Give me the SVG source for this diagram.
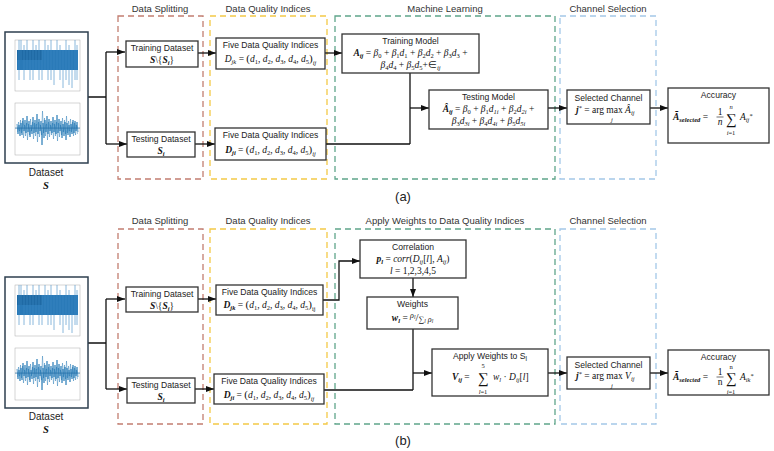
<svg xmlns="http://www.w3.org/2000/svg" xmlns:xlink="http://www.w3.org/1999/xlink" width="774" height="451" viewBox="0 0 774 451">
<style>
.lbl{font-family:"Liberation Sans",Arial,sans-serif;font-size:8.6px;fill:#222;text-anchor:middle}
.ttl{font-family:"Liberation Sans",Arial,sans-serif;font-size:9.5px;fill:#333;text-anchor:middle}
.cap{font-family:"Liberation Sans",Arial,sans-serif;font-size:13px;fill:#222;text-anchor:middle}
.m{font-family:"Liberation Serif","Times New Roman",serif;font-style:italic;font-size:9.5px;fill:#111;text-anchor:middle}
.st{text-anchor:start}
.b{font-weight:bold}
.s{font-size:6.5px}
.r{font-style:normal}
.sum{font-size:15px;font-style:normal}
.box{fill:#fff;stroke:#333;stroke-width:1.3}
.dash{fill:none;stroke-width:1.3;stroke-dasharray:6 4}
.red{stroke:#c27d70}
.yel{stroke:#f3c947}
.grn{stroke:#5fa58a}
.blu{stroke:#a4c8e8}
.cn{fill:none;stroke:#111;stroke-width:1.3}
.ar{marker-end:url(#ar)}
.frame{fill:#fff;stroke:#2e3f4f;stroke-width:1.5}
.ax{fill:#fff;stroke:#aaa;stroke-width:0.5}
.sig{fill:none;stroke:#1f77b4;stroke-width:0.7}
</style>
<defs>
<marker id="ar" viewBox="0 0 8 6" refX="8" refY="3" markerWidth="8" markerHeight="6" markerUnits="userSpaceOnUse" orient="auto"><path d="M0,0L8,3L0,6z" fill="#111"/></marker>
<g id="ds">
<rect class="frame" x="0" y="0" width="83" height="131"/>
<rect class="ax" x="10" y="8" width="65" height="51"/>
<rect x="12" y="18" width="61" height="20" fill="#2a7ab8"/>
<rect x="12" y="18" width="25" height="10" fill="#1f6aa5"/>
<path d="M14,8V48M16,8V28M19,13V48M22,8V38M25,18V48M28,8V48M31,13V38M34,8V48M37,18V48M40,8V38M43,13V48M46,8V48M49,18V53M52,8V38M55,13V48M58,18V56M61,8V48M64,13V53M67,18V56M70,8V48M72,13V48" stroke="#3c8bc6" stroke-width="0.8" opacity="0.75"/>
<rect class="ax" x="10" y="71" width="65" height="52"/>
<polyline class="sig" points="12,92 13,102 14,93 15,104 16,91 17,103 18,86 19,99 20,88 21,101 22,84 23,100 24,89 25,105 26,93 27,102 28,85 29,101 30,88 31,100 32,82 33,102 34,87 35,99 36,89 37,113 38,91 39,106 40,88 41,100 42,84 43,102 44,87 45,99 46,89 47,101 48,85 49,100 50,88 51,102 52,83 53,101 54,87 55,99 56,89 57,106 58,92 59,104 60,90 61,108 62,91 63,103 64,93 65,105 66,92 67,102 68,88 69,101 70,89 71,99 72,90 73,100"/>
<polyline class="sig" opacity="0.6" points="12.5,100 13.5,90 14.5,99 15.5,88 16.5,101 17.5,89 18.5,106 19.5,93 20.5,104 21.5,91 22.5,108 23.5,92 24.5,103 25.5,87 26.5,99 27.5,90 28.5,107 29.5,91 30.5,104 31.5,92 32.5,110 33.5,90 34.5,105 35.5,93 36.5,103 37.5,79 38.5,101 39.5,86 40.5,104 41.5,92 42.5,108 43.5,90 44.5,105 45.5,93 46.5,103 47.5,91 48.5,107 49.5,92 50.5,104 51.5,90 52.5,109 53.5,91 54.5,105 55.5,93 56.5,103 57.5,86 58.5,100 59.5,88 60.5,102 61.5,84 62.5,101 63.5,89 64.5,99 65.5,87 66.5,100 67.5,90 68.5,104 69.5,91 70.5,103 71.5,93 72.5,102"/>
<rect x="10" y="95.5" width="65" height="1.2" fill="#1f6aa5" opacity="0.6"/>
</g>
</defs>
<rect width="774" height="451" fill="#fff"/>

<!-- Panel (a) -->
<g id="a-groups">
<rect class="dash red" x="118" y="16" width="85" height="163"/>
<rect class="dash yel" x="210" y="16" width="117" height="163"/>
<rect class="dash grn" x="335" y="16" width="220" height="163"/>
<rect class="dash blu" x="560" y="16" width="96" height="163"/>
<text class="ttl" x="160" y="12">Data Splitting</text>
<text class="ttl" x="268" y="12">Data Quality Indices</text>
<text class="ttl" x="445" y="12">Machine Learning</text>
<text class="ttl" x="608" y="12">Channel Selection</text>
</g>
<g id="a-connectors">
<path class="cn" d="M88,97H106M106,52V144"/>
<path class="cn ar" d="M106,52H125"/>
<path class="cn ar" d="M106,144H127"/>
<path class="cn ar" d="M198,53H216"/>
<path class="cn ar" d="M195,144H215"/>
<path class="cn ar" d="M325,53H342"/>
<path class="cn" d="M410,73V144M326,144H410"/>
<path class="cn ar" d="M410,108H429"/>
<path class="cn ar" d="M548,108H567"/>
<path class="cn ar" d="M650,108H668"/>
</g>
<g id="a-dataset">
<use xlink:href="#ds" x="5" y="32"/>
<text class="lbl" x="46" y="176" style="font-size:10px">Dataset</text>
<text class="m b" x="46" y="189" style="font-size:10.5px">S</text>
</g>
<g id="a-train">
<rect class="box" x="126" y="41" width="72" height="26"/>
<text class="lbl" x="162" y="51">Training Dataset</text>
<text class="m" x="162" y="63"><tspan class="b">S</tspan><tspan class="r">\{</tspan><tspan class="b">S</tspan><tspan class="s b" dy="2">i</tspan><tspan class="r" dy="-2">}</tspan></text>
</g>
<g id="a-test">
<rect class="box" x="127" y="132" width="68" height="25"/>
<text class="lbl" x="161" y="142">Testing Dataset</text>
<text class="m" x="161" y="154"><tspan class="b">S</tspan><tspan class="s b" dy="2">i</tspan></text>
</g>
<g id="a-dqi1">
<rect class="box" x="216" y="38" width="109" height="31"/>
<text class="lbl" x="270.5" y="48">Five Data Quality Indices</text>
<text class="m" x="270.5" y="62">D<tspan class="s" dy="2">jk</tspan><tspan class="r" dy="-2"> = </tspan><tspan class="r" style="font-size:11px">(</tspan>d<tspan class="s r" dy="2">1</tspan><tspan class="r" dy="-2">, </tspan>d<tspan class="s r" dy="2">2</tspan><tspan class="r" dy="-2">, </tspan>d<tspan class="s r" dy="2">3</tspan><tspan class="r" dy="-2">, </tspan>d<tspan class="s r" dy="2">4</tspan><tspan class="r" dy="-2">, </tspan>d<tspan class="s r" dy="2">5</tspan><tspan class="r" dy="-2" style="font-size:11px">)</tspan><tspan class="s" dy="3">ij</tspan></text>
</g>
<g id="a-dqi2">
<rect class="box" x="215" y="128" width="111" height="32"/>
<text class="lbl" x="270.5" y="138">Five Data Quality Indices</text>
<text class="m" x="270.5" y="153"><tspan class="b">D</tspan><tspan class="s b" dy="2">ji</tspan><tspan class="r" dy="-2"> = </tspan><tspan class="r" style="font-size:11px">(</tspan>d<tspan class="s r" dy="2">1</tspan><tspan class="r" dy="-2">, </tspan>d<tspan class="s r" dy="2">2</tspan><tspan class="r" dy="-2">, </tspan>d<tspan class="s r" dy="2">3</tspan><tspan class="r" dy="-2">, </tspan>d<tspan class="s r" dy="2">4</tspan><tspan class="r" dy="-2">, </tspan>d<tspan class="s r" dy="2">5</tspan><tspan class="r" dy="-2" style="font-size:11px">)</tspan><tspan class="s" dy="3">ij</tspan></text>
</g>
<g id="a-trainmodel">
<rect class="box" x="342" y="34" width="137" height="39"/>
<text class="lbl" x="410.5" y="44">Training Model</text>
<text class="m" x="410.5" y="56"><tspan class="b">A</tspan><tspan class="s b" dy="2">ij</tspan><tspan class="r" dy="-2"> = </tspan>β<tspan class="s r" dy="2">0</tspan><tspan class="r" dy="-2"> + </tspan>β<tspan class="s r" dy="2">1</tspan><tspan dy="-2">d</tspan><tspan class="s r" dy="2">1</tspan><tspan class="r" dy="-2"> + </tspan>β<tspan class="s r" dy="2">2</tspan><tspan dy="-2">d</tspan><tspan class="s r" dy="2">2</tspan><tspan class="r" dy="-2"> + </tspan>β<tspan class="s r" dy="2">3</tspan><tspan dy="-2">d</tspan><tspan class="s r" dy="2">3</tspan><tspan class="r" dy="-2"> +</tspan></text>
<text class="m" x="410.5" y="68">β<tspan class="s r" dy="2">4</tspan><tspan dy="-2">d</tspan><tspan class="s r" dy="2">4</tspan><tspan class="r" dy="-2"> + </tspan>β<tspan class="s r" dy="2">5</tspan><tspan dy="-2">d</tspan><tspan class="s r" dy="2">5</tspan><tspan class="r" dy="-2">+∈</tspan><tspan class="s" dy="2">ij</tspan></text>
</g>
<g id="a-testmodel">
<rect class="box" x="429" y="90" width="119" height="39"/>
<text class="lbl" x="488.5" y="100">Testing Model</text>
<text class="m" x="488.5" y="112"><tspan class="b">Â</tspan><tspan class="s b" dy="2">ij</tspan><tspan class="r" dy="-2"> = </tspan>β<tspan class="s r" dy="2">0</tspan><tspan class="r" dy="-2"> + </tspan>β<tspan class="s r" dy="2">1</tspan><tspan dy="-2">d</tspan><tspan class="s" dy="2">1i</tspan><tspan class="r" dy="-2"> + </tspan>β<tspan class="s r" dy="2">2</tspan><tspan dy="-2">d</tspan><tspan class="s" dy="2">2i</tspan><tspan class="r" dy="-2"> +</tspan></text>
<text class="m" x="488.5" y="124">β<tspan class="s r" dy="2">3</tspan><tspan dy="-2">d</tspan><tspan class="s" dy="2">3i</tspan><tspan class="r" dy="-2"> + </tspan>β<tspan class="s r" dy="2">4</tspan><tspan dy="-2">d</tspan><tspan class="s" dy="2">4i</tspan><tspan class="r" dy="-2"> + </tspan>β<tspan class="s r" dy="2">5</tspan><tspan dy="-2">d</tspan><tspan class="s" dy="2">5i</tspan></text>
</g>
<g id="a-select">
<rect class="box" x="567" y="90" width="83" height="34"/>
<text class="lbl" x="608.5" y="101">Selected Channel</text>
<text class="m st" x="576" y="113"><tspan class="b">j</tspan><tspan class="s r" dy="-3">*</tspan><tspan class="r" dy="3"> = arg max </tspan>Â<tspan class="s" dy="2">ij</tspan></text>
<text class="m s" x="612" y="121.5">j</text>
</g>
<g id="a-acc">
<rect class="box" x="668" y="88" width="101" height="55"/>
<text class="lbl" x="718.5" y="98">Accuracy</text>
<text class="m st" x="673" y="120"><tspan class="b">Ā</tspan><tspan class="s b" dy="2">selected</tspan><tspan class="r" dy="-2"> =</tspan></text>
<text class="m r" x="720" y="115">1</text>
<path d="M716.5,117H723.5" stroke="#111" stroke-width="0.6"/>
<text class="m" x="720" y="125">n</text>
<text class="m sum" x="731" y="124">∑</text>
<text class="m s" x="731" y="109">n</text>
<text class="m s" x="731" y="135"><tspan>i</tspan><tspan class="r">=1</tspan></text>
<text class="m st" x="740" y="120">A<tspan class="s" dy="2">ij</tspan><tspan class="s r" dy="-4">*</tspan></text>
</g>
<text class="cap" x="403" y="201">(a)</text>

<!-- Panel (b) -->
<g id="b-groups">
<rect class="dash red" x="118" y="229" width="85" height="195"/>
<rect class="dash yel" x="210" y="229" width="117" height="195"/>
<rect class="dash grn" x="335" y="229" width="220" height="195"/>
<rect class="dash blu" x="560" y="229" width="96" height="195"/>
<text class="ttl" x="160" y="224">Data Splitting</text>
<text class="ttl" x="268" y="224">Data Quality Indices</text>
<text class="ttl" x="445" y="224">Apply Weights to Data Quality Indices</text>
<text class="ttl" x="608" y="224">Channel Selection</text>
</g>
<g id="b-connectors">
<path class="cn" d="M88,343H106M106,299V389"/>
<path class="cn ar" d="M106,299H125"/>
<path class="cn ar" d="M106,389H127"/>
<path class="cn ar" d="M198,299H216"/>
<path class="cn ar" d="M195,389H214"/>
<path class="cn ar" d="M323,300H339V261H360"/>
<path class="cn ar" d="M413,278V297"/>
<path class="cn" d="M413,329V390M324,390H413"/>
<path class="cn ar" d="M413,373H432"/>
<path class="cn ar" d="M548,373H567"/>
<path class="cn ar" d="M650,373H668"/>
</g>
<g id="b-dataset">
<use xlink:href="#ds" x="5" y="277"/>
<text class="lbl" x="46" y="420" style="font-size:10px">Dataset</text>
<text class="m b" x="46" y="433" style="font-size:10.5px">S</text>
</g>
<g id="b-train">
<rect class="box" x="126" y="287" width="72" height="25"/>
<text class="lbl" x="162" y="297">Training Dataset</text>
<text class="m" x="162" y="309"><tspan class="b">S</tspan><tspan class="r">\{</tspan><tspan class="b">S</tspan><tspan class="s b" dy="2">i</tspan><tspan class="r" dy="-2">}</tspan></text>
</g>
<g id="b-test">
<rect class="box" x="127" y="378" width="68" height="25"/>
<text class="lbl" x="161" y="388">Testing Dataset</text>
<text class="m" x="161" y="400"><tspan class="b">S</tspan><tspan class="s b" dy="2">i</tspan></text>
</g>
<g id="b-dqi1">
<rect class="box" x="216" y="285" width="107" height="30"/>
<text class="lbl" x="269.5" y="295">Five Data Quality Indices</text>
<text class="m" x="269.5" y="308"><tspan class="b">D</tspan><tspan class="s b" dy="2">jk</tspan><tspan class="r" dy="-2"> = </tspan><tspan class="r" style="font-size:11px">(</tspan>d<tspan class="s r" dy="2">1</tspan><tspan class="r" dy="-2">, </tspan>d<tspan class="s r" dy="2">2</tspan><tspan class="r" dy="-2">, </tspan>d<tspan class="s r" dy="2">3</tspan><tspan class="r" dy="-2">, </tspan>d<tspan class="s r" dy="2">4</tspan><tspan class="r" dy="-2">, </tspan>d<tspan class="s r" dy="2">5</tspan><tspan class="r" dy="-2" style="font-size:11px">)</tspan><tspan class="s r" dy="3">ij</tspan></text>
</g>
<g id="b-dqi2">
<rect class="box" x="214" y="374" width="110" height="30"/>
<text class="lbl" x="269" y="384">Five Data Quality Indices</text>
<text class="m" x="269" y="398"><tspan class="b">D</tspan><tspan class="s b" dy="2">ji</tspan><tspan class="r" dy="-2"> = </tspan><tspan class="r" style="font-size:11px">(</tspan>d<tspan class="s r" dy="2">1</tspan><tspan class="r" dy="-2">, </tspan>d<tspan class="s r" dy="2">2</tspan><tspan class="r" dy="-2">, </tspan>d<tspan class="s r" dy="2">3</tspan><tspan class="r" dy="-2">, </tspan>d<tspan class="s r" dy="2">4</tspan><tspan class="r" dy="-2">, </tspan>d<tspan class="s r" dy="2">5</tspan><tspan class="r" dy="-2" style="font-size:11px">)</tspan><tspan class="s" dy="3">ij</tspan></text>
</g>
<g id="b-corr">
<rect class="box" x="360" y="240" width="106" height="38"/>
<text class="lbl" x="413" y="250">Correlation</text>
<text class="m" x="413" y="262"><tspan class="b">p</tspan><tspan class="s b" dy="2">l</tspan><tspan class="r" dy="-2"> = </tspan>corr<tspan class="r">(</tspan>D<tspan class="s" dy="2">ij</tspan><tspan class="r" dy="-2">[</tspan>l<tspan class="r">], </tspan>A<tspan class="s" dy="2">ij</tspan><tspan class="r" dy="-2">)</tspan></text>
<text class="m" x="413" y="274">l<tspan class="r"> = 1,2,3,4,5</tspan></text>
</g>
<g id="b-weights">
<rect class="box" x="367" y="297" width="91" height="32"/>
<text class="lbl" x="412.5" y="307">Weights</text>
<text class="m" x="412.5" y="321"><tspan class="b">w</tspan><tspan class="s b" dy="2">l</tspan><tspan class="r" dy="-2"> = </tspan><tspan style="font-size:8px" dy="-3">ρ</tspan><tspan style="font-size:5.5px" dy="1">l</tspan><tspan class="r" style="font-size:11px" dy="2">/</tspan><tspan class="r" style="font-size:8px" dy="1">∑</tspan><tspan style="font-size:5.5px" dy="1">l</tspan><tspan style="font-size:8px" dy="-1"> ρ</tspan><tspan style="font-size:5.5px" dy="1">l</tspan></text>
</g>
<g id="b-apply">
<rect class="box" x="432" y="349" width="116" height="47"/>
<text class="lbl" x="490" y="359">Apply Weights to S<tspan style="font-size:6.5px" dy="2">l</tspan></text>
<text class="m st" x="452" y="380"><tspan class="b">V</tspan><tspan class="s b" dy="2">ij</tspan><tspan class="r" dy="-2"> =</tspan></text>
<text class="m sum" x="483" y="383">∑</text>
<text class="m s r" x="483" y="367.5">5</text>
<text class="m s" x="483" y="394">l<tspan class="r">=1</tspan></text>
<text class="m st" x="493" y="380">w<tspan class="s" dy="2">l</tspan><tspan class="r" dy="-2"> · </tspan>D<tspan class="s" dy="2">ij</tspan><tspan class="r" dy="-2">[</tspan>l<tspan class="r">]</tspan></text>
</g>
<g id="b-select">
<rect class="box" x="567" y="357" width="83" height="32"/>
<text class="lbl" x="608.5" y="368">Selected Channel</text>
<text class="m st" x="576" y="379"><tspan class="b">j</tspan><tspan class="s r" dy="-3">*</tspan><tspan class="r" dy="3"> = arg max </tspan>V<tspan class="s" dy="2">ij</tspan></text>
<text class="m s" x="612" y="387.5">j</text>
</g>
<g id="b-acc">
<rect class="box" x="668" y="350" width="101" height="45"/>
<text class="lbl" x="718.5" y="360">Accuracy</text>
<text class="m st" x="673" y="380"><tspan class="b">Ā</tspan><tspan class="s b" dy="2">selected</tspan><tspan class="r" dy="-2"> =</tspan></text>
<text class="m r" x="720" y="375">1</text>
<path d="M716.5,377H723.5" stroke="#111" stroke-width="0.6"/>
<text class="m r" x="720" y="385">n</text>
<text class="m sum" x="731" y="383">∑</text>
<text class="m s r" x="731" y="368.5">n</text>
<text class="m s" x="731" y="393.5"><tspan>i</tspan><tspan class="r">=1</tspan></text>
<text class="m st" x="740" y="380">A<tspan class="s" dy="2">ik</tspan><tspan class="s r" dy="-4">*</tspan></text>
</g>
<text class="cap" x="403" y="445">(b)</text>
</svg>
